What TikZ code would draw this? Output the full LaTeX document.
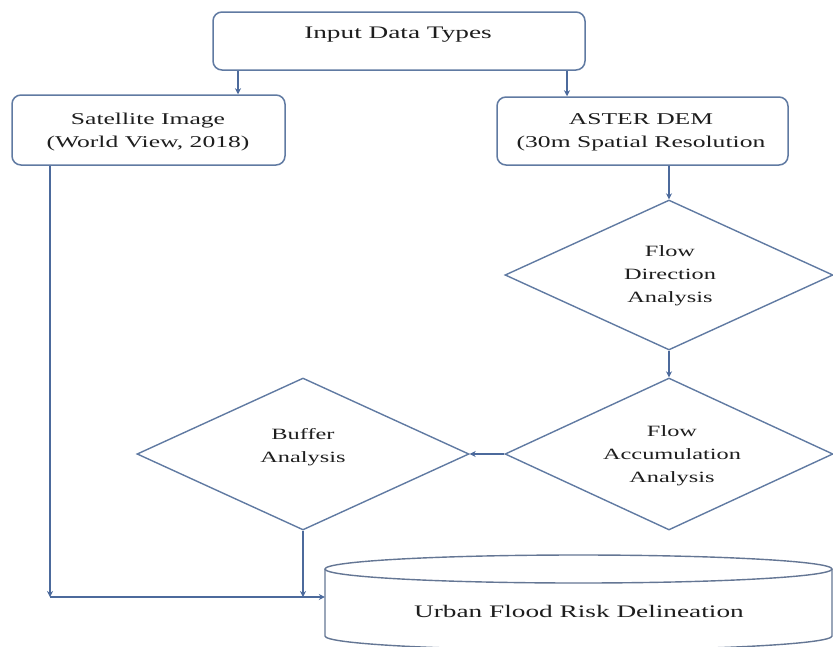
\documentclass[tikz,border=0pt]{standalone}
\usepackage{fontspec}
\setmainfont{Liberation Serif}[FakeStretch=1.55]
\usetikzlibrary{shapes.geometric,arrows.meta}
\definecolor{arrc}{RGB}{76,106,156}
\definecolor{brd}{RGB}{96,122,162}
\definecolor{cylc}{RGB}{100,118,148}
\definecolor{txtc}{RGB}{30,30,30}
\begin{document}
\begin{tikzpicture}[x=1pt,y=-1pt,
  box/.style={draw=brd,line width=1.5pt,rounded corners=9pt,fill=white,inner sep=0pt},
  dia/.style={draw=brd,line width=1.4pt,diamond,inner sep=0pt},
  arr/.style={draw=arrc,line width=2pt,-{Stealth[length=6pt,width=6pt]}},
  cyl/.style={draw=cylc,line width=1.4pt},
  lbl/.style={text=txtc,align=center,inner sep=0pt,font=\fontsize{16.5}{23}\selectfont},
  dlbl/.style={lbl,font=\fontsize{15.7}{23}\selectfont},
  blbl/.style={lbl,font=\fontsize{17.6}{23}\selectfont}
]
\useasboundingbox (0,0) rectangle (833,646);

% boxes
\node[box,minimum width=372pt,minimum height=58pt] (top) at (399,41) {};
\node[blbl] (topt) at (398,35) {Input Data Types};

\node[box,minimum width=273pt,minimum height=70pt] (sat) at (148.5,130) {};
\node[lbl] (satt) at (148,132) {Satellite Image\\(World View, 2018)};

\node[box,minimum width=291pt,minimum height=68pt] (dem) at (642.5,131) {};
\node[lbl] (demt) at (641,132) {ASTER DEM\\(30m Spatial Resolution};

% diamonds
\node[dia,minimum width=328pt,minimum height=150pt] (fd) at (669,275) {};
\node[dlbl] (fdt) at (670,276) {Flow\\Direction\\Analysis};

\node[dia,minimum width=328pt,minimum height=152pt] (fa) at (669,454) {};
\node[dlbl] (fat) at (672,456) {Flow\\Accumulation\\Analysis};

\node[dia,minimum width=332pt,minimum height=152pt] (buf) at (303,454) {};
\node[dlbl] (buft) at (303,447) {Buffer\\Analysis};

% cylinder
\node[minimum width=507pt,minimum height=70pt,inner sep=0pt] (urb) at (578.5,604) {};
\draw[cyl] (325,569) -- (325,636) arc[start angle=180,end angle=0,x radius=253.5,y radius=14] -- (832,569);
\draw[cyl,fill=white] (578.5,569) ellipse[x radius=253.5,y radius=14];
\node[blbl] (urbt) at (579,611) {Urban Flood Risk Delineation};

% connectors
\coordinate (xa) at (238,0);
\coordinate (xb) at (567,0);
\coordinate (xl) at (50,0);
\coordinate (yb) at (0,597);
\draw[arr] (top.south -| xa) -- (sat.north -| xa);
\draw[arr] (top.south -| xb) -- (dem.north -| xb);
\draw[arr] (dem.south -| fd.north) -- (fd.north);
\draw[arr] (fd.south) -- (fa.north);
\draw[arr] (fa.west) -- (buf.east);
\draw[arr] (buf.south) -- (buf.south |- yb);
\draw[arr] (sat.south -| xl) -- (xl |- yb);
\draw[arr] (xl |- yb) -- (urb.west |- yb);
\end{tikzpicture}
\end{document}
